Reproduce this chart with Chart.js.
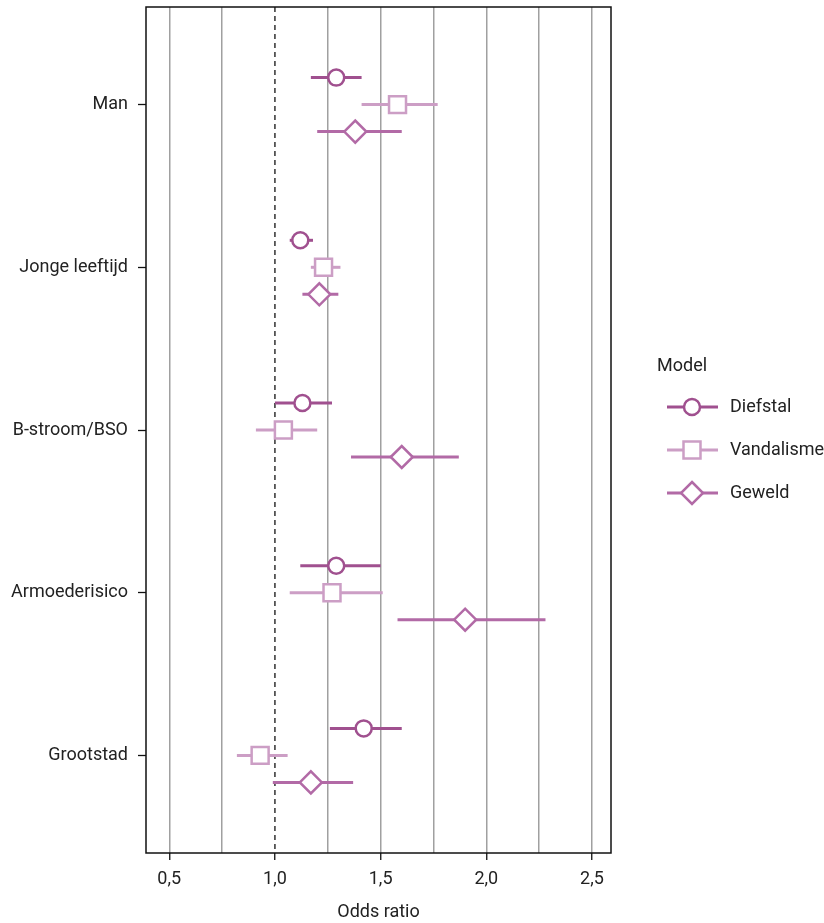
<!DOCTYPE html>
<html>
<head>
<meta charset="utf-8">
<script src="https://cdn.jsdelivr.net/npm/chart.js@4/dist/chart.umd.min.js"></script>
<style>
  html, body { margin: 0; padding: 0; background: #fff; }
  #wrap { width: 824px; height: 923px; }
</style>
</head>
<body>
<div id="wrap"><canvas id="chart"></canvas></div>
<script>
const categories = ["Man", "Jonge leeftijd", "B-stroom/BSO", "Armoederisico", "Grootstad"];
const seriesNames = ["Diefstal", "Vandalisme", "Geweld"];
const xTicks = [0.5, 0.75, 1.0, 1.25, 1.5, 1.75, 2.0, 2.25, 2.5];

// odds ratios with lower / upper bounds, per category
const diefstalOR = [1.29, 1.12, 1.13, 1.29, 1.42];
const diefstalLo = [1.17, 1.07, 1.00, 1.12, 1.26];
const diefstalHi = [1.41, 1.18, 1.27, 1.50, 1.60];

const vandalismeOR = [1.58, 1.23, 1.04, 1.27, 0.93];
const vandalismeLo = [1.41, 1.17, 0.91, 1.07, 0.82];
const vandalismeHi = [1.77, 1.31, 1.20, 1.51, 1.06];

const geweldOR = [1.38, 1.21, 1.60, 1.90, 1.17];
const geweldLo = [1.20, 1.13, 1.36, 1.58, 0.99];
const geweldHi = [1.60, 1.30, 1.87, 2.28, 1.37];

const colors = ["#a0508f", "#cc9ec5", "#b26aa6"];
const styles = ["circle", "rect", "rectRot"];
const radii = [8, 12, 11];
const offsets = [-0.166, 0, 0.166];

const FONT = 'Roboto, "Liberation Sans", sans-serif';
Chart.defaults.font.family = FONT;
Chart.defaults.font.size = 18;
Chart.defaults.color = "#222";

const ors = [diefstalOR, vandalismeOR, geweldOR];
const los = [diefstalLo, vandalismeLo, geweldLo];
const his = [diefstalHi, vandalismeHi, geweldHi];

const datasets = seriesNames.map((name, s) => ({
  label: name,
  data: categories.map((c, i) => ({ x: ors[s][i], y: i + 1 + offsets[s], lo: los[s][i], hi: his[s][i] })),
  pointStyle: styles[s],
  pointRadius: radii[s],
  pointHoverRadius: radii[s],
  pointBorderWidth: 2.5,
  pointBorderColor: colors[s],
  pointBackgroundColor: "#fff",
  borderColor: colors[s],
  backgroundColor: "#fff",
  showLine: false
}));

// whiskers, reference line at 1 and the frame
const errorBars = {
  id: "errorBars",
  beforeDatasetsDraw(chart) {
    const { ctx, chartArea: a, scales: { x, y } } = chart;
    ctx.save();
    ctx.strokeStyle = "#111";
    ctx.lineWidth = 1.3;
    ctx.setLineDash([5, 4]);
    const x1 = x.getPixelForValue(1);
    ctx.beginPath();
    ctx.moveTo(x1, a.top);
    ctx.lineTo(x1, a.bottom);
    ctx.stroke();
    ctx.setLineDash([]);
    chart.data.datasets.forEach((ds, s) => {
      ctx.strokeStyle = colors[s];
      ctx.lineWidth = 3;
      ds.data.forEach(p => {
        const py = y.getPixelForValue(p.y);
        ctx.beginPath();
        ctx.moveTo(x.getPixelForValue(p.lo), py);
        ctx.lineTo(x.getPixelForValue(p.hi), py);
        ctx.stroke();
      });
    });
    ctx.restore();
  },
  afterDraw(chart) {
    const { ctx, chartArea: a } = chart;
    ctx.save();
    ctx.strokeStyle = "#111";
    ctx.lineWidth = 1.5;
    ctx.strokeRect(a.left, a.top, a.right - a.left, a.bottom - a.top);

    // legend
    ctx.fillStyle = "#222";
    ctx.font = "18px " + FONT;
    ctx.textBaseline = "middle";
    ctx.fillText("Model", 657, 366);
    seriesNames.forEach((name, s) => {
      const ly = 407 + s * 43;
      ctx.strokeStyle = colors[s];
      ctx.lineWidth = 3;
      ctx.beginPath();
      ctx.moveTo(667, ly);
      ctx.lineTo(718, ly);
      ctx.stroke();
      ctx.lineWidth = 2.5;
      ctx.fillStyle = "#fff";
      ctx.beginPath();
      const cx = 692;
      if (styles[s] === "circle") {
        ctx.arc(cx, ly, 8, 0, Math.PI * 2);
      } else if (styles[s] === "rect") {
        ctx.rect(cx - 8.5, ly - 8.5, 17, 17);
      } else {
        ctx.moveTo(cx, ly - 11);
        ctx.lineTo(cx + 11, ly);
        ctx.lineTo(cx, ly + 11);
        ctx.lineTo(cx - 11, ly);
        ctx.closePath();
      }
      ctx.fill();
      ctx.stroke();
      ctx.fillStyle = "#222";
      ctx.fillText(name, 730, ly);
    });
    ctx.restore();
  }
};

new Chart(document.getElementById("chart"), {
  type: "scatter",
  data: { datasets },
  options: {
    responsive: true,
    maintainAspectRatio: false,
    animation: false,
    layout: { autoPadding: false, padding: { left: 8, top: 7, right: 213, bottom: 0 } },
    plugins: { legend: { display: false }, tooltip: { enabled: false } },
    scales: {
      x: {
        type: "linear",
        min: 0.39,
        max: 2.59,
        afterBuildTicks: scale => { scale.ticks = xTicks.map(v => ({ value: v })); },
        afterFit: scale => { scale.height = 70; scale.paddingLeft = 0; scale.paddingRight = 0; },
        ticks: {
          autoSkip: false,
          maxRotation: 0,
          padding: 9,
          color: "#222",
          callback: v => (Math.round(v * 100) % 50 === 0 ? v.toFixed(1).replace(".", ",") : "")
        },
        grid: {
          color: ctx => (ctx.tick && ctx.tick.value === 1 ? "rgba(0,0,0,0)" : "#a0a0a0"),
          lineWidth: 1.5,
          tickLength: 7,
          tickColor: ctx => (Math.round(ctx.tick.value * 100) % 50 === 0 ? "#111" : "rgba(0,0,0,0)"),
          tickWidth: 1.3
        },
        border: { display: false },
        title: { display: true, text: "Odds ratio", color: "#222", padding: { top: 2, bottom: 0 } }
      },
      y: {
        type: "linear",
        reverse: true,
        min: 0.4,
        max: 5.6,
        afterBuildTicks: scale => { scale.ticks = categories.map((c, i) => ({ value: i + 1 })); },
        afterFit: scale => { scale.width = 138; scale.paddingTop = 0; scale.paddingBottom = 0; },
        ticks: {
          padding: 10,
          color: "#222",
          callback: v => categories[v - 1]
        },
        grid: { drawOnChartArea: false, tickLength: 8, color: "#111", tickWidth: 1.3 },
        border: { display: false }
      }
    }
  },
  plugins: [errorBars]
});
</script>
</body>
</html>
